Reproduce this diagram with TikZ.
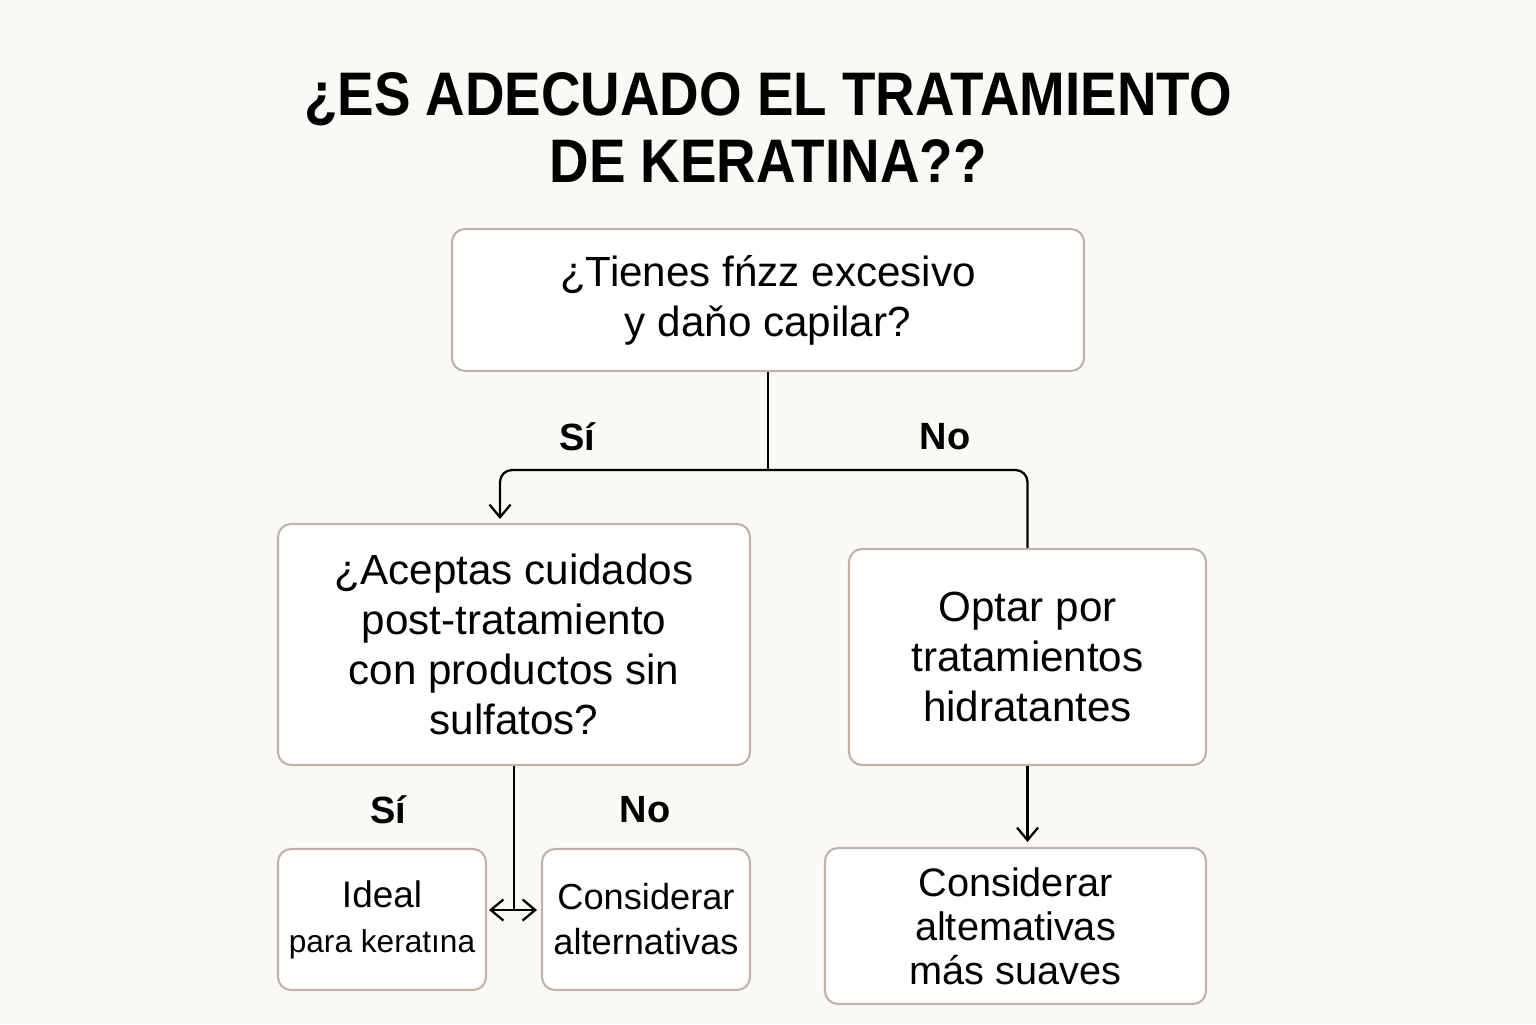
\documentclass[tikz,border=0pt]{standalone}
\usepackage{fontspec}
\setmainfont{Liberation Sans}
\newfontfamily\titlefont[FakeStretch=0.89]{Liberation Sans}
\usetikzlibrary{arrows.meta}
\definecolor{paper}{HTML}{FBF9F5}
\definecolor{boxline}{HTML}{BDB5AD}
\tikzset{
  box/.style={draw=boxline, fill=white, line width=0.6pt, rounded corners=0.13cm,
    align=center, inner sep=0pt, font=\fontsize{12}{14.2}\selectfont},
  answer/.style={font=\fontsize{10.8}{13}\selectfont\bfseries},
  link/.style={line width=0.65pt, black},
  arrow/.style={link, -{Straight Barb[length=3.6pt,width=6pt]}},
  dblarrow/.style={link, {Straight Barb[length=3.6pt,width=6pt]}-{Straight Barb[length=3.6pt,width=6pt]}}
}
\begin{document}
\begin{tikzpicture}
\fill[paper] (0,0) rectangle (15.36,-10.24);
\useasboundingbox (0,0) rectangle (15.36,-10.24);
% title
\node[anchor=base, font=\titlefont\fontsize{17.5}{19}\selectfont\bfseries] (title1) at (7.68,-1.15) {¿ES ADECUADO EL TRATAMIENTO};
\node[anchor=base, font=\titlefont\fontsize{17.5}{19}\selectfont\bfseries] (title2) at (7.68,-1.82) {DE KERATINA??};
% boxes
\node[box, minimum width=6.32cm, minimum height=1.42cm] (frizz) at (7.68,-3.00) {\raisebox{-0.05cm}{¿Tienes fńzz excesivo}\\\raisebox{-0.05cm}{y daňo capilar?}};
\node[box, minimum width=4.72cm, minimum height=2.41cm] (care) at (5.14,-6.445) {¿Aceptas cuidados\\post-tratamiento\hspace*{0.25cm}\\con productos sin\\sulfatos?};
\node[box, minimum width=3.57cm, minimum height=2.16cm] (hydra) at (10.275,-6.57) {Optar por\\tratamientos\\hidratantes};
\node[box, minimum width=2.08cm, minimum height=1.41cm, font=\fontsize{10.5}{12.8}\selectfont] (ideal) at (3.82,-9.195) {Ideal\\{\fontsize{9}{11}\selectfont para keratına}};
\node[box, minimum width=2.08cm, minimum height=1.41cm, font=\fontsize{10.3}{12.8}\selectfont] (alt) at (6.46,-9.195) {Considerar\\alternativas};
\node[box, minimum width=3.81cm, minimum height=1.56cm, font=\fontsize{11.3}{12.5}\selectfont] (soft) at (10.155,-9.26) {Considerar\\altemativas\\más suaves};
% answers
\node[answer] (si1) at (5.77,-4.37) {Sí};
\node[answer] (no1) at (9.45,-4.37) {No};
\node[answer] (si2) at (3.88,-8.10) {Sí};
\node[answer] (no2) at (6.45,-8.10) {No};
% connectors
\coordinate (fork) at (7.68,-4.70);
\coordinate (siend) at (5.00,-5.19);
\draw[link] (frizz.south) -- (fork);
\draw[arrow, rounded corners=0.12cm] (fork) -| (siend);
\draw[link, rounded corners=0.12cm] (fork) -| (hydra.north);
\coordinate (hubl) at (4.89,-9.10);
\coordinate (hubr) at (5.37,-9.10);
\draw[link] (care.south) -- (care.south |- hubl);
\draw[dblarrow] (hubl) -- (hubr);
\draw[arrow, shorten >=0.05cm] (hydra.south) -- (hydra.south |- soft.north);
\end{tikzpicture}
\end{document}
